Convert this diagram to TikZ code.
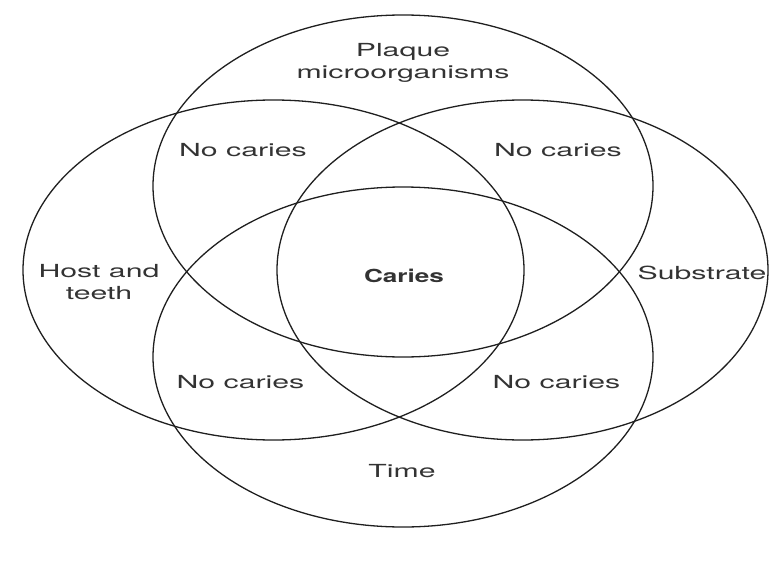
\documentclass[tikz,border=0pt]{standalone}
\usepackage{fontspec}
\setmainfont[FakeStretch=1.68]{TeX Gyre Heros}
\newfontfamily\cariesfont[FakeStretch=1.45]{TeX Gyre Heros}
\usepackage{tikz}
\usetikzlibrary{positioning}

\begin{document}
\begin{tikzpicture}[x=1pt,y=-1pt,
    venn/.style={draw=black!88,line width=1.3pt},
    lbl/.style={text=black!80,font=\fontsize{18}{22}\selectfont,inner sep=0pt,anchor=base,align=center}]
    \useasboundingbox (0,0) rectangle (770,575);

    % the four factors
    \draw[venn] (403,186) ellipse (250 and 171);
    \draw[venn] (273.5,270) ellipse (250.5 and 170);
    \draw[venn] (522.5,270) ellipse (245.5 and 170);
    \draw[venn] (403,357) ellipse (250 and 170);

    % factor names (base = last line)
    \node[lbl] (plaque) at (403,79) {Plaque\\microorganisms};
    \node[lbl] (host) at (99,299) {Host and\\teeth};
    \node[lbl] (substrate) at (702,279) {Substrate};
    \node[lbl] (time) at (402,477) {Time};

    % overlaps
    \node[lbl] (nctl) at (243,156) {No caries};
    \node[lbl] (nctr) at (558,156) {No caries};
    \node[lbl] (ncbl) at (240.5,388) {No caries};
    \node[lbl] (ncbr) at (556.5,388) {No caries};
    \node[lbl,font=\fontsize{18}{22}\selectfont\cariesfont\bfseries] (caries) at (404,282) {Caries};
\end{tikzpicture}
\end{document}
